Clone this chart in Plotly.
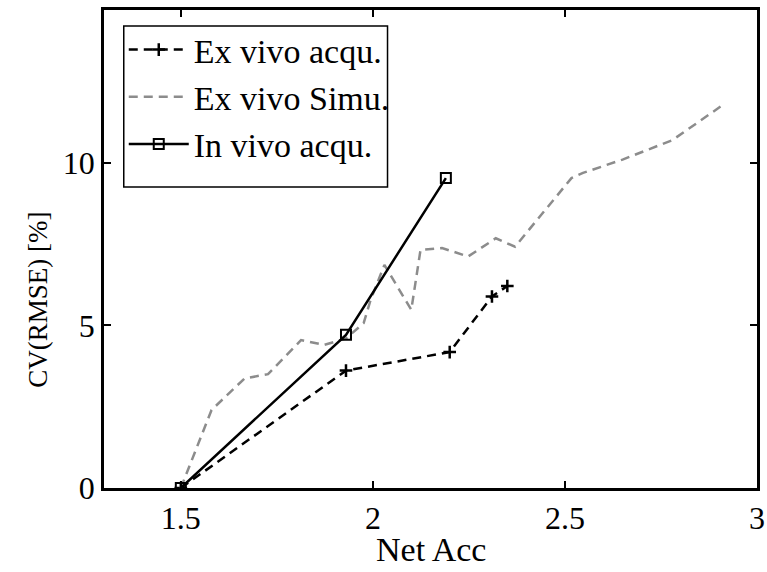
import plotly.graph_objects as go

# Data
exvivo_acq_x = [1.50, 1.93, 2.20, 2.31, 2.35]
exvivo_acq_y = [0.0, 3.61, 4.18, 5.89, 6.21]

exvivo_sim_x = [1.50, 1.58, 1.666, 1.727, 1.813, 1.873, 1.93, 1.976, 1.994, 2.03,
                2.10, 2.124, 2.18, 2.248, 2.32, 2.37, 2.517, 2.547, 2.65, 2.78, 2.905]
exvivo_sim_y = [0.0, 2.4, 3.37, 3.5, 4.55, 4.4, 4.6, 5.07, 5.78, 6.86,
                5.48, 7.32, 7.38, 7.12, 7.68, 7.42, 9.53, 9.69, 10.1, 10.7, 11.73]

invivo_acq_x = [1.50, 1.93, 2.19]
invivo_acq_y = [0.0, 4.71, 9.53]

x_ticks = [1.5, 2, 2.5, 3]
x_tick_labels = ["1.5", "2", "2.5", "3"]
y_ticks = [0, 5, 10]
y_tick_labels = ["0", "5", "10"]

FONT = "'Liberation Serif', 'Times New Roman', 'DejaVu Serif', serif"

W, H = 767, 572
L, R, T, B = 104, 2, 10, 84
PW, PH = W - L - R, H - T - B


def px_x(p):
    return (p - L) / PW


def px_y(p):
    return (H - B - p) / PH


fig = go.Figure()
fig.add_trace(go.Scatter(
    x=exvivo_acq_x, y=exvivo_acq_y, name="Ex vivo acqu.", mode="lines+markers",
    line=dict(color="black", width=2.5, dash="9px,6px"),
    marker=dict(symbol="cross-thin", size=9, line=dict(color="black", width=2.5)),
    legendgroup="a"))
fig.add_trace(go.Scatter(
    x=exvivo_sim_x, y=exvivo_sim_y, name="Ex vivo Simu.", mode="lines",
    line=dict(color="#8c8c8c", width=2.5, dash="9px,6px"),
    legendgroup="b"))
fig.add_trace(go.Scatter(
    x=invivo_acq_x, y=invivo_acq_y, name="In vivo acqu.", mode="lines+markers",
    line=dict(color="black", width=2.5),
    marker=dict(symbol="square-open", size=10, color="black", line=dict(color="black", width=2)),
    legendgroup="c"))

fig.update_layout(
    width=W, height=H, autosize=False,
    margin=dict(l=L, r=R, t=T, b=B),
    paper_bgcolor="white", plot_bgcolor="white",
    font=dict(family=FONT, color="black", size=32),
    showlegend=True,
    legend=dict(x=px_x(124), y=px_y(21), xanchor="left", yanchor="top",
                borderwidth=0, bgcolor="rgba(0,0,0,0)",
                font=dict(family=FONT, size=34, color="black"),
                itemwidth=60, tracegroupgap=16, traceorder="normal"),
    shapes=[
        dict(type="rect", xref="paper", yref="paper",
             x0=px_x(124), x1=px_x(391), y0=px_y(187), y1=px_y(26),
             line=dict(color="black", width=1.5), fillcolor="white", layer="above"),
    ],
    xaxis=dict(range=[1.3, 3.0], tickvals=x_ticks, ticktext=x_tick_labels,
               ticks="inside", ticklen=7, tickwidth=2, tickcolor="black",
               showline=True, linecolor="black", linewidth=2.5, mirror="ticks",
               showgrid=False, zeroline=False, ticklabeloverflow="allow",
               tickfont=dict(family=FONT, size=32, color="black")),
    yaxis=dict(range=[0, 14.7], tickvals=y_ticks, ticktext=y_tick_labels,
               ticks="inside", ticklen=7, tickwidth=2, tickcolor="black",
               showline=True, linecolor="black", linewidth=2.5, mirror="ticks",
               showgrid=False, zeroline=False,
               tickfont=dict(family=FONT, size=32, color="black")),
    annotations=[
        dict(text="Net Acc", xref="paper", yref="paper", x=0.5, y=px_y(549),
             xanchor="center", yanchor="middle", showarrow=False,
             font=dict(family=FONT, size=34, color="black")),
        dict(text="CV(RMSE) [%]", xref="paper", yref="paper", x=px_x(37), y=px_y(300),
             xanchor="center", yanchor="middle", showarrow=False, textangle=-90,
             font=dict(family=FONT, size=27, color="black")),
    ],
)

fig.write_html("out.html",
               config={"displayModeBar": False, "responsive": False},
               post_script="document.body.style.margin='0';document.body.style.overflow='hidden';")
